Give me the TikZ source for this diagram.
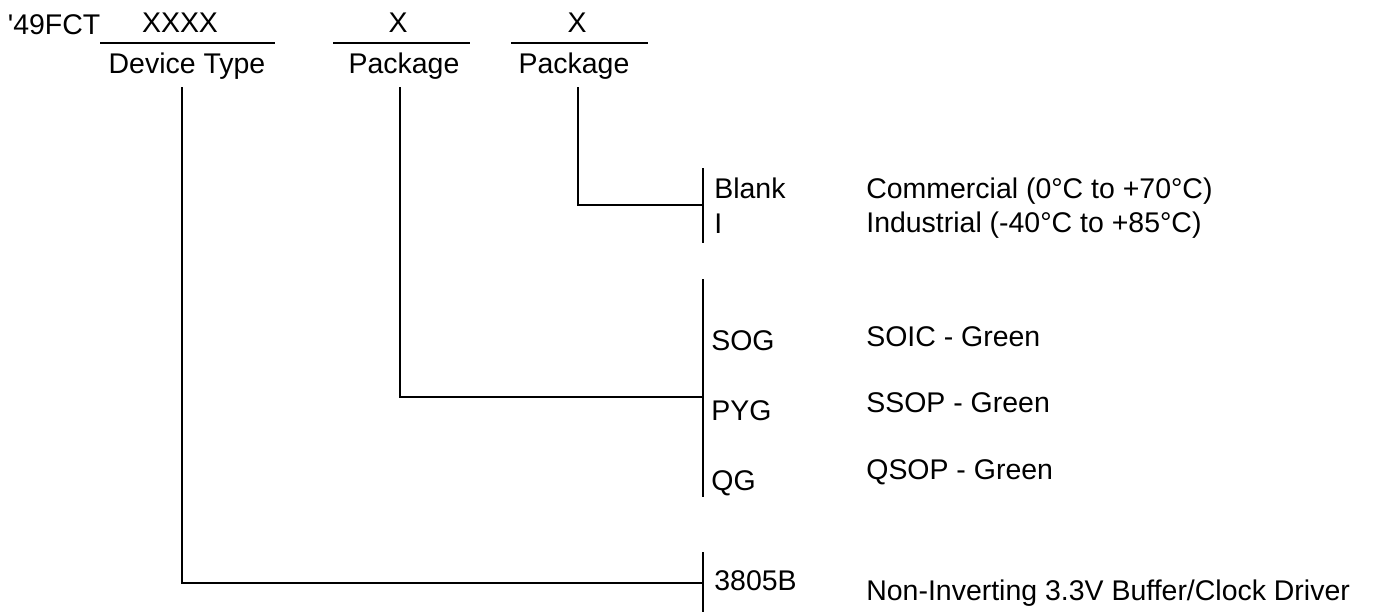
\documentclass[tikz,border=0pt]{standalone}
\usepackage{fontspec}
\setmainfont{Liberation Sans}
\usetikzlibrary{positioning}

\begin{document}
\begin{tikzpicture}[
    x=0.02cm, y=-0.02cm,
    basetxt/.style={inner sep=0pt, font=\fontsize{16.2}{19}\selectfont},
    fieldtxt/.style={basetxt, anchor=base},
    codetxt/.style={basetxt, anchor=base west},
    fieldrule/.style={line width=1.1pt},
    leader/.style={line width=0.9pt},
    bar/.style={line width=0.9pt}
]
\useasboundingbox (0,0) rectangle (1377,613);

% Part number header
\node[codetxt] (prefix) at (7.5,34) {\textquotesingle 49FCT};
\node[fieldtxt] (devx) at (180,32) {XXXX};
\node[fieldtxt] (devname) at (187,73) {Device Type};
\node[fieldtxt] (pkgx) at (398,32) {X};
\node[fieldtxt] (pkgname) at (404,73) {Package};
\node[fieldtxt] (tmpx) at (577,32) {X};
\node[fieldtxt] (tmpname) at (574,73) {Package};

\draw[fieldrule] (100,43) -- (275,43);
\draw[fieldrule] (333,43) -- (470,43);
\draw[fieldrule] (511,43) -- (648,43);

\coordinate (devtick) at (182,87);
\coordinate (pkgtick) at (400,87);
\coordinate (tmptick) at (578,87);

% Temperature range
\draw[bar] (703,168) -- (703,243);
\coordinate (tmpbar) at (703,205);
\draw[leader] (tmptick) |- (tmpbar);
\node[codetxt] (blank) at (714,198) {Blank};
\node[codetxt] (ind) at (714,233) {I};
\node[codetxt] (comm) at (866,198) {Commercial (0°C to +70°C)};
\node[codetxt] (indus) at (866,232) {Industrial (-40°C to +85°C)};

% Package
\draw[bar] (703,279) -- (703,497);
\coordinate (pkgbar) at (703,397);
\draw[leader] (pkgtick) |- (pkgbar);
\node[codetxt] (sog) at (711,350) {SOG};
\node[codetxt] (pyg) at (711,420) {PYG};
\node[codetxt] (qg) at (711,490) {QG};
\node[codetxt] (soic) at (866,346) {SOIC - Green};
\node[codetxt] (ssop) at (866,412) {SSOP - Green};
\node[codetxt] (qsop) at (866,479) {QSOP - Green};

% Device type
\draw[bar] (703,552) -- (703,612);
\coordinate (devbar) at (703,583);
\draw[leader] (devtick) |- (devbar);
\node[codetxt] (dev) at (714,590) {3805B};
\node[codetxt] (devdesc) at (866,600) {Non-Inverting 3.3V Buffer/Clock Driver};

\end{tikzpicture}
\end{document}
